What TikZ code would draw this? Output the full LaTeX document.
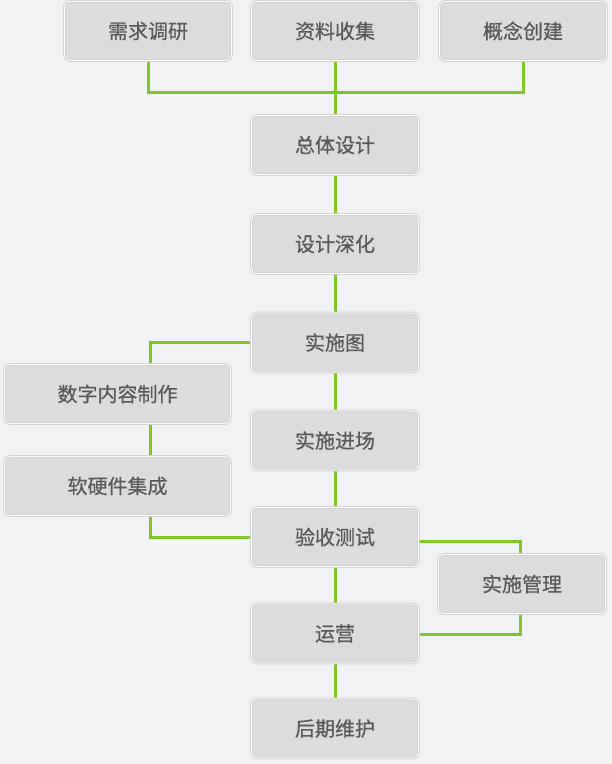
\documentclass[tikz,border=0pt]{standalone}
\usepackage{fontspec}
\setmainfont{Noto Sans CJK SC}
\newfontfamily\boxfont{Noto Sans CJK SC}[FakeBold=0.6]
\usetikzlibrary{backgrounds}
\definecolor{bg}{HTML}{F1F2F4}
\definecolor{boxfill}{HTML}{DCDCDC}
\definecolor{boxline}{HTML}{D2D2D2}
\definecolor{txt}{HTML}{595959}
\definecolor{lgreen}{HTML}{7DC623}
\begin{document}
\begin{tikzpicture}[x=1pt,y=-1pt,
  box/.style={rounded corners=6pt, draw=boxline, line width=1pt, double=white,
    double distance=0.8pt, fill=boxfill, minimum width=167pt, minimum height=59pt,
    inner sep=0pt, text=txt, font=\boxfont\fontsize{20}{23}\selectfont},
  widebox/.style={box, minimum width=226pt},
  link/.style={draw=lgreen, line width=3pt}]
\useasboundingbox (0,0) rectangle (612,764);
% top row
\node[box] (xq) at (148,31) {需求调研};
\node[box] (zl) at (335,31) {资料收集};
\node[box] (gn) at (523,31) {概念创建};
% center column
\node[box] (zt) at (335,145) {总体设计};
\node[box] (sj) at (335,244) {设计深化};
\node[box] (st) at (335,342.5) {实施图};
\node[box] (jc) at (335,440.5) {实施进场};
\node[box] (ys) at (335,537) {验收测试};
\node[box] (yy) at (335,633.5) {运营};
\node[box] (hq) at (335,728.5) {后期维护};
% left column
\node[widebox] (sz) at (117.5,394) {数字内容制作};
\node[widebox] (rj) at (117.5,486) {软硬件集成};
% right
\node[box] (gl) at (522,584) {实施管理};
% helper coordinates
\coordinate (topbar) at (0,92);
\coordinate (lx) at (150,0);
\coordinate (rx) at (520,0);
\begin{scope}[on background layer]
\fill[bg] (0,0) rectangle (612,764);
\draw[link] (xq.south) -- (xq.south |- topbar) -- (gn.south |- topbar) -- (gn.south);
\draw[link] (zl.south) -- (zt.north);
\draw[link] (zt.south) -- (sj.north);
\draw[link] (sj.south) -- (st.north);
\draw[link] (st.south) -- (jc.north);
\draw[link] (jc.south) -- (ys.north);
\draw[link] (ys.south) -- (yy.north);
\draw[link] (yy.south) -- (hq.north);
\draw[link] (st.west) -- (st.west -| lx) -- (lx |- sz.north);
\draw[link] (lx |- sz.south) -- (lx |- rj.north);
\draw[link] (lx |- rj.south) -- ++(0,21) coordinate (lb) -- (lb -| ys.west);
\draw[link] ([yshift=-4pt]ys.east) coordinate (re) -- (re -| rx) -- (rx |- gl.north);
\draw[link] (rx |- gl.south) -- ++(0,20) coordinate (rb) -- (rb -| yy.east);
\end{scope}
\end{tikzpicture}
\end{document}
